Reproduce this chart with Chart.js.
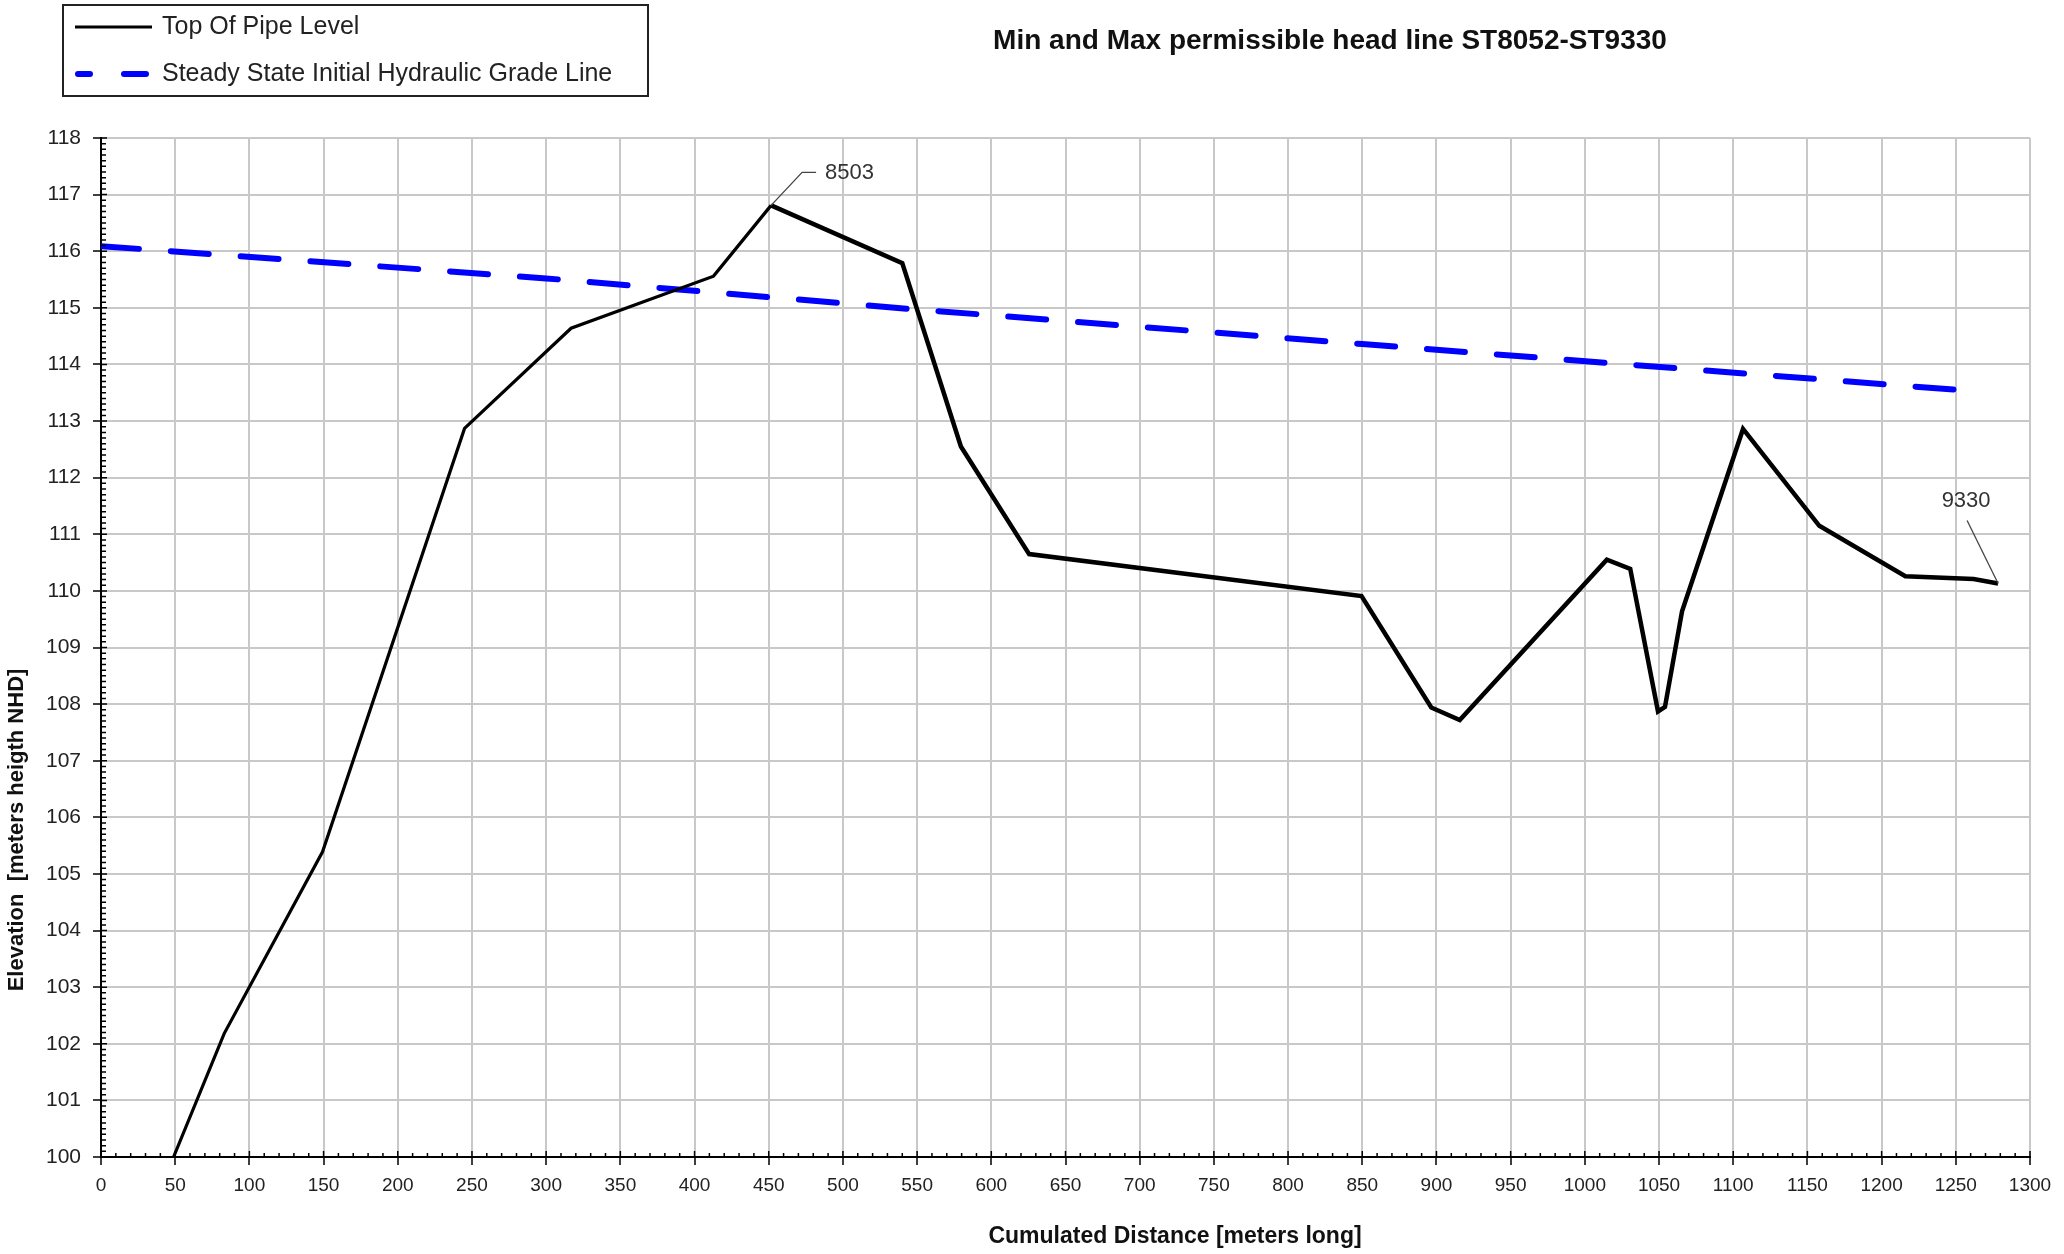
<!DOCTYPE html>
<html>
<head>
<meta charset="utf-8">
<script src="https://cdn.jsdelivr.net/npm/chart.js@4.4.1/dist/chart.umd.min.js"></script>
<style>
	html, body { margin: 0; padding: 0; background: #fff; }
	#profile_wrapper { width: 2064px; height: 1254px; }
</style>
</head>
<body>
<div id="profile_wrapper"><canvas id="profile_chart" width="2064" height="1254"></canvas></div>
<script>
// Top of pipe level: cumulated distance [m] and elevation [m NHD]
const pipeDistance = [48.9, 83, 149.3, 245, 316.8, 412.8, 451.6, 540, 579.5, 625.5, 849.5, 896.5, 915.7, 1014.8, 1030.6, 1049.3, 1054, 1065.5, 1106.6, 1158, 1216, 1262, 1278.5];
const pipeLevel = [100, 102.18, 105.39, 112.87, 114.64, 115.56, 116.81, 115.79, 112.55, 110.65, 109.91, 107.94, 107.72, 110.55, 110.39, 107.87, 107.95, 109.64, 112.86, 111.15, 110.26, 110.21, 110.13];

// Steady state initial hydraulic grade line
const hglDistance = [0, 300, 550, 850, 1261.5];
const hglLevel = [116.09, 115.52, 114.97, 114.36, 113.53];

// axis ranges / tick steps
const xMin = 0, xMax = 1300, xStep = 50;
const yMin = 100, yMax = 118, yStep = 1;

// node labels on the pipe line
const nodeNames = ['8503', '9330'];
const nodeIndex = [6, 22];

const chartTitle = 'Min and Max permissible head line ST8052-ST9330';
const xTitle = 'Cumulated Distance [meters long]';
const yTitle = 'Elevation  [meters heigth NHD]';
const seriesNames = ['Top Of Pipe Level', 'Steady State Initial Hydraulic Grade Line'];

function toPoints(xs, ys){
	let pts = [];
	for (let i = 0; i < xs.length; i++) pts.push({x: xs[i], y: ys[i]});
	return pts;
}

const FONT = "'Liberation Sans', Arial, sans-serif";
Chart.defaults.font.family = FONT;
Chart.defaults.color = '#222';

// ticks, node labels, title, legend and axis titles
const decorations = {
	id: 'decorations',
	afterDatasetsDraw(chart){
		const c = chart.ctx, xs = chart.scales.x, ys = chart.scales.y, area = chart.chartArea;
		c.save();
		c.strokeStyle = '#000';
		c.lineWidth = 1.5;
		c.beginPath();
		for (let v = xMin; v <= xMax; v += 10) {
			const px = xs.getPixelForValue(v);
			const len = (v % xStep === 0) ? 6 : 4;
			c.moveTo(px, area.bottom);
			c.lineTo(px, area.bottom - len);
		}
		for (let i = 0; i <= (yMax - yMin) * 10; i++) {
			const py = ys.getPixelForValue(yMin + i / 10);
			const len = (i % 10 === 0) ? 6 : 5;
			c.moveTo(area.left, py);
			c.lineTo(area.left + len, py);
		}
		c.stroke();

		// node labels with leader lines
		c.strokeStyle = '#444';
		c.lineWidth = 1.3;
		c.fillStyle = '#333';
		c.font = '22px ' + FONT;
		c.textBaseline = 'middle';
		// 8503
		let i = nodeIndex[0];
		let px = xs.getPixelForValue(pipeDistance[i]), py = ys.getPixelForValue(pipeLevel[i]);
		c.beginPath();
		c.moveTo(px, py);
		c.lineTo(px + 31, py - 33);
		c.lineTo(px + 45, py - 33);
		c.stroke();
		c.textAlign = 'left';
		c.fillText(nodeNames[0], px + 54, py - 32);
		// 9330
		i = nodeIndex[1];
		px = xs.getPixelForValue(pipeDistance[i]);
		py = ys.getPixelForValue(pipeLevel[i]);
		c.beginPath();
		c.moveTo(px, py);
		c.lineTo(px - 31, py - 63);
		c.stroke();
		c.textAlign = 'center';
		c.fillText(nodeNames[1], px - 32, py - 83);
		c.restore();
	},
	afterDraw(chart){
		const c = chart.ctx;
		c.save();
		// title
		c.fillStyle = '#111';
		c.textAlign = 'center';
		c.textBaseline = 'middle';
		c.font = 'bold 28px ' + FONT;
		c.fillText(chartTitle, 1330, 41);

		// axis titles
		c.font = 'bold 23px ' + FONT;
		c.fillText(xTitle, 1175, 1237);
		c.save();
		c.translate(17, 830);
		c.rotate(-Math.PI / 2);
		c.font = 'bold 22px ' + FONT;
		c.fillText(yTitle, 0, 0);
		c.restore();

		// legend box
		c.strokeStyle = '#222';
		c.lineWidth = 2;
		c.strokeRect(63, 5, 585, 91);
		c.strokeStyle = '#000';
		c.lineWidth = 3;
		c.beginPath();
		c.moveTo(75, 27);
		c.lineTo(152, 27);
		c.stroke();
		c.strokeStyle = '#0000ff';
		c.lineWidth = 6;
		c.lineCap = 'round';
		c.beginPath();
		c.moveTo(78, 74);
		c.lineTo(90, 74);
		c.moveTo(124, 74);
		c.lineTo(146, 74);
		c.stroke();
		c.fillStyle = '#222';
		c.textAlign = 'left';
		c.font = '25px ' + FONT;
		c.fillText(seriesNames[0], 162, 27);
		c.fillText(seriesNames[1], 162, 74);
		c.restore();
	}
};

const ctx = document.getElementById('profile_chart');

new Chart(ctx, {
	type: 'scatter',
	data: {
		datasets: [{
			label: seriesNames[0],
			data: toPoints(pipeDistance, pipeLevel),
			showLine: true,
			borderColor: '#000',
			borderWidth: 3.2,
			pointRadius: 0,
			tension: 0,
			segment: {
				borderWidth: c => c.p0.parsed.x >= 450 ? 4.5 : 3.2
			},
			order: 1
		}, {
			label: seriesNames[1],
			data: toPoints(hglDistance, hglLevel),
			showLine: true,
			borderColor: '#0000ff',
			borderWidth: 6,
			borderDash: [38, 32],
			borderCapStyle: 'round',
			pointRadius: 0,
			tension: 0,
			order: 2
		}]
	},
	options: {
		responsive: false,
		animation: false,
		events: [],
		layout: {
			padding: {top: 138, right: 34, left: 0, bottom: 0}
		},
		plugins: {
			legend: {display: false},
			title: {display: false},
			tooltip: {enabled: false}
		},
		scales: {
			x: {
				type: 'linear',
				min: xMin,
				max: xMax,
				afterFit: s => { s.height = 97; },
				ticks: {
					stepSize: xStep,
					padding: 9,
					color: '#222',
					font: {size: 19},
					maxRotation: 0,
					callback: v => String(v)
				},
				grid: {
					color: '#c8c8c8',
					lineWidth: 2,
					tickColor: '#000',
					tickLength: 8,
					tickWidth: 1.5
				},
				border: {color: '#000', width: 2}
			},
			y: {
				type: 'linear',
				min: yMin,
				max: yMax,
				afterFit: s => { s.width = 101; },
				ticks: {
					stepSize: yStep,
					padding: 12,
					color: '#222',
					font: {size: 21},
					callback: v => String(v)
				},
				grid: {
					color: '#c8c8c8',
					lineWidth: 2,
					tickColor: '#000',
					tickLength: 8,
					tickWidth: 1.5
				},
				border: {color: '#000', width: 2}
			}
		}
	},
	plugins: [decorations]
});
</script>
</body>
</html>
